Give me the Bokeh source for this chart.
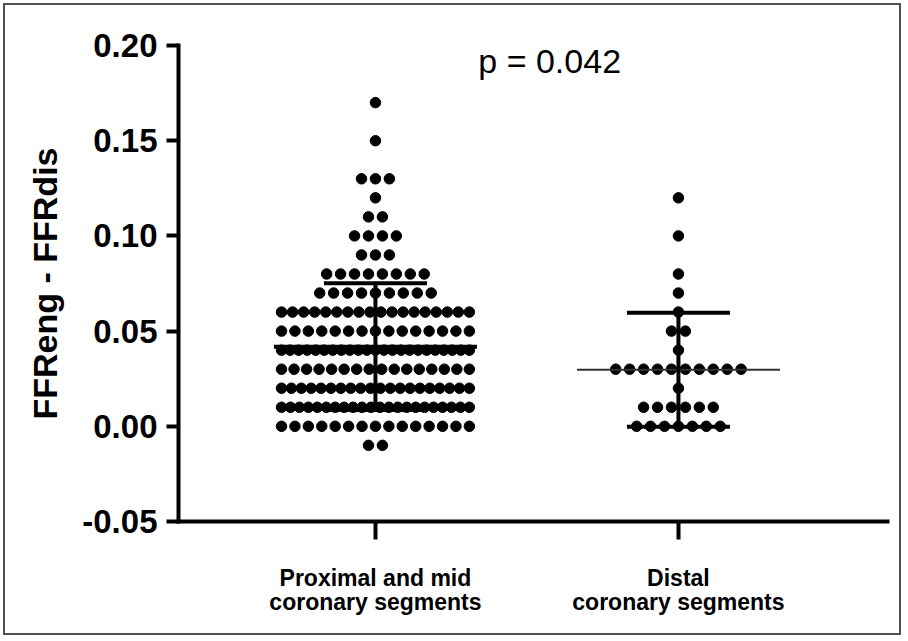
import numpy as np
from bokeh.plotting import figure
from bokeh.models import Range1d, FixedTicker, Label, NumeralTickFormatter
from bokeh.embed import file_html
from bokeh.resources import INLINE

# ---- data ----
group_labels = ["Proximal and mid\ncoronary segments", "Distal\ncoronary segments"]
group_pos = [1, 2]

prox_values = [0.17, 0.15, 0.13, 0.12, 0.11, 0.10, 0.09, 0.08, 0.07, 0.06,
               0.05, 0.04, 0.03, 0.02, 0.01, 0.00, -0.01]
prox_counts = [1, 1, 3, 1, 2, 4, 3, 8, 9, 18, 15, 23, 16, 20, 22, 15, 2]

dist_values = [0.12, 0.10, 0.08, 0.07, 0.06, 0.05, 0.04, 0.03, 0.02, 0.01, 0.00]
dist_counts = [1, 1, 1, 1, 1, 2, 1, 10, 1, 6, 7]

y_ticks = [-0.05, 0.00, 0.05, 0.10, 0.15, 0.20]
y_label = "FFReng - FFRdis"
p_text = "p = 0.042"


def spread(center, values, counts, step=0.046, max_span=0.62):
    xs, ys = [], []
    for v, n in zip(values, counts):
        s = step if n <= 1 else min(step, max_span / (n - 1))
        offs = (np.arange(n) - (n - 1) / 2.0) * s
        xs.extend(center + offs)
        ys.extend([v] * n)
    return xs, ys


px, py = spread(group_pos[0], prox_values, prox_counts)
dx, dy = spread(group_pos[1], dist_values, dist_counts)

prox_mean, prox_sd = float(np.mean(py)), float(np.std(py, ddof=1))
dist_mean, dist_sd = float(np.mean(dy)), float(np.std(dy, ddof=1))

p = figure(width=898, height=632, output_backend="svg", toolbar_location=None,
           x_range=Range1d(0.35, 2.69), y_range=Range1d(-0.05, 0.20),
           min_border_left=173, min_border_right=16, min_border_top=40,
           min_border_bottom=116, margin=(3, 0, 0, 3))
p.styles = {"border": "2px solid #505050"}
p.outline_line_color = None
p.xgrid.visible = False
p.ygrid.visible = False
p.background_fill_color = "white"
p.border_fill_color = "white"

# dots
p.scatter(px, py, size=10.5, color="black")
p.scatter(dx, dy, size=10.5, color="black")

mean_half = 0.335
cap_half = 0.17

# proximal: thick mean line + SD whiskers
p.segment(x0=[group_pos[0] - mean_half], x1=[group_pos[0] + mean_half],
          y0=[prox_mean], y1=[prox_mean], line_width=4, color="black")
p.segment(x0=[group_pos[0]], x1=[group_pos[0]],
          y0=[prox_mean - prox_sd], y1=[prox_mean + prox_sd], line_width=4, color="black")
p.segment(x0=[group_pos[0] - cap_half] * 2, x1=[group_pos[0] + cap_half] * 2,
          y0=[prox_mean - prox_sd, prox_mean + prox_sd],
          y1=[prox_mean - prox_sd, prox_mean + prox_sd], line_width=4, color="black")

# distal: thin mean line + thick SD whiskers
p.segment(x0=[group_pos[1] - mean_half], x1=[group_pos[1] + mean_half],
          y0=[dist_mean], y1=[dist_mean], line_width=2, color="#333333")
p.segment(x0=[group_pos[1]], x1=[group_pos[1]],
          y0=[dist_mean - dist_sd], y1=[dist_mean + dist_sd], line_width=4, color="black")
p.segment(x0=[group_pos[1] - cap_half] * 2, x1=[group_pos[1] + cap_half] * 2,
          y0=[dist_mean - dist_sd, dist_mean + dist_sd],
          y1=[dist_mean - dist_sd, dist_mean + dist_sd], line_width=4, color="black")

# p-value annotation
p.add_layout(Label(x=1.575, y=0.192, text=p_text, text_align="center",
                   text_baseline="alphabetic", text_font="Liberation Sans",
                   text_font_size="34px", text_color="black"))

# axes
for ax in (p.xaxis, p.yaxis):
    ax.axis_line_width = 4
    ax.axis_line_color = "black"
    ax.axis_line_cap = "square"
    ax.major_tick_line_width = 4
    ax.major_tick_line_color = "black"
    ax.major_tick_in = 0
    ax.minor_tick_line_color = None

p.yaxis.ticker = FixedTicker(ticks=y_ticks)
p.yaxis.formatter = NumeralTickFormatter(format="0.00")
p.yaxis.major_tick_out = 12
p.yaxis.major_label_standoff = 9
p.yaxis.major_label_text_font = "Liberation Sans"
p.yaxis.major_label_text_font_style = "bold"
p.yaxis.major_label_text_font_size = "33px"
p.yaxis.major_label_text_color = "black"
p.yaxis.axis_label = y_label
p.yaxis.axis_label_text_font = "Liberation Sans"
p.yaxis.axis_label_text_font_style = "bold"
p.yaxis.axis_label_text_font_size = "34px"
p.yaxis.axis_label_text_color = "black"
p.yaxis.axis_label_standoff = 15

p.xaxis.ticker = FixedTicker(ticks=group_pos)
p.xaxis.major_label_overrides = {g: lab for g, lab in zip(group_pos, group_labels)}
p.xaxis.major_tick_out = 18
p.xaxis.major_label_standoff = 25
p.xaxis.major_label_text_font = "Liberation Sans"
p.xaxis.major_label_text_font_style = "bold"
p.xaxis.major_label_text_font_size = "23px"
p.xaxis.major_label_text_color = "black"
p.xaxis.major_label_text_line_height = 0.95

open("out.html", "w").write(file_html(p, INLINE))
